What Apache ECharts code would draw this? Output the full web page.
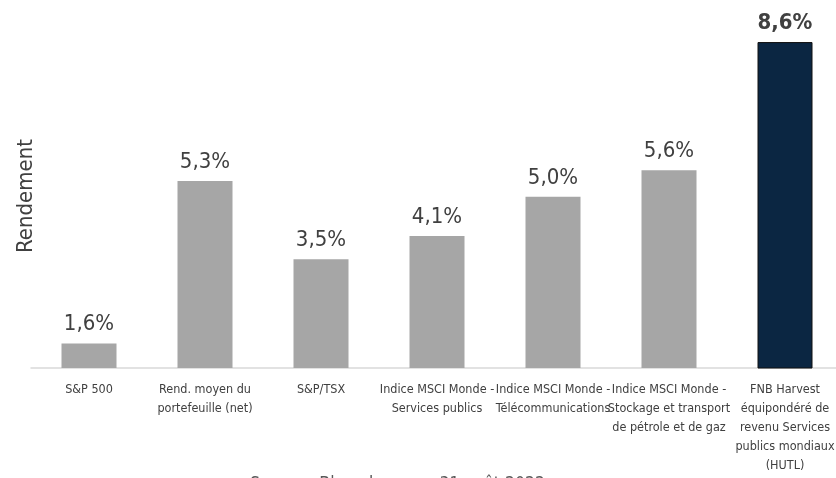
<!DOCTYPE html>
<html>
<head>
<meta charset="utf-8">
<script src="https://cdn.jsdelivr.net/npm/echarts@6/dist/echarts.min.js"></script>
<style>
  html, body { margin: 0; padding: 0; background: #fff; }
  #chart { width: 836px; height: 478px; }
</style>
</head>
<body>
<div id="chart"></div>
<script>
// categories (axis labels, wrapped as in the original)
var categories = [
  "S&P 500",
  "Rend. moyen du\nportefeuille (net)",
  "S&P/TSX",
  "Indice MSCI Monde -\nServices publics",
  "Indice MSCI Monde -\nTélécommunications",
  "Indice MSCI Monde -\nStockage et transport\nde pétrole et de gaz",
  "FNB Harvest\néquipondéré de\nrevenu Services\npublics mondiaux\n(HUTL)"
];
// rendement (%)
var returns = [1.57, 5.35, 3.53, 4.07, 4.98, 5.6, 8.58];
var highlightIndex = 6;

var FONT = "'Liberation Sans Narrow', 'DejaVu Sans Condensed', sans-serif";
var chart = echarts.init(document.getElementById("chart"));

chart.setOption({
  animation: false,
  grid: {
    left: 31,
    top: 24,
    bottom: 110,
    width: 812,
    containLabel: false,
    outerBoundsMode: "none"
  },
  xAxis: {
    type: "category",
    data: categories,
    axisTick: { show: false },
    axisLine: { lineStyle: { color: "#D9D9D9", width: 1.5 } },
    axisLabel: {
      interval: 0,
      margin: 12,
      color: "#404040",
      fontFamily: FONT,
      fontSize: 12.5,
      lineHeight: 19
    }
  },
  yAxis: {
    type: "value",
    min: 1,
    max: 9,
    splitLine: { show: false },
    axisLabel: { show: false },
    axisLine: { show: false },
    axisTick: { show: false },
    name: "Rendement",
    nameLocation: "middle",
    nameRotate: 90,
    nameGap: -6,
    nameTextStyle: {
      color: "#404040",
      fontFamily: FONT,
      fontSize: 22
    }
  },
  series: [
    {
      type: "bar",
      barWidth: 55,
      data: returns.map(function (v, i) {
        if (i === highlightIndex) {
          return {
            value: v,
            itemStyle: { color: "#0B2642", borderColor: "#111", borderWidth: 1 },
            label: { fontWeight: "bold" }
          };
        }
        return v;
      }),
      itemStyle: { color: "#A6A6A6" },
      label: {
        show: true,
        position: "top",
        distance: 8,
        color: "#404040",
        fontFamily: FONT,
        fontSize: 22,
        formatter: function (p) {
          return p.value.toFixed(1).replace(".", ",") + "%";
        }
      }
    }
  ],
  graphic: [
    {
      type: "text",
      left: 250,
      top: 475,
      style: {
        text: "Source : Bloomberg, au 31 août 2022",
        fill: "#595959",
        font: "17.5px " + FONT
      }
    }
  ]
});
</script>
</body>
</html>
